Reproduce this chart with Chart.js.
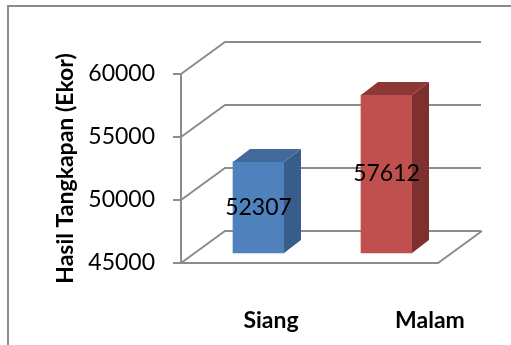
<!DOCTYPE html>
<html>
<head>
<meta charset="utf-8">
<script src="https://cdn.jsdelivr.net/npm/chart.js@4.4.1/dist/chart.umd.min.js"></script>
<style>
  html, body { margin: 0; padding: 0; background: #fff; }
  #wrap { position: relative; width: 511px; height: 345px; overflow: hidden; }
  #frame { position: absolute; left: 7px; top: 5px; right: -10px; bottom: -10px;
           border-left: 2px solid #8c8c8c; border-top: 2px solid #8c8c8c; }
  canvas { position: absolute; left: 0; top: 0; }
</style>
</head>
<body>
<div id="wrap">
  <div id="frame"></div>
  <canvas id="c" width="511" height="345"></canvas>
</div>
<script>
const categories = ['Siang', 'Malam'];
const values = [52307, 57612];
const barColors = ['#4F81BD', '#C0504D'];
const sideColors = ['#385D8A', '#7E302E'];
const topColors = ['#41699A', '#8C3836'];
const yTickValues = [45000, 50000, 55000, 60000];
const yTitle = 'Hasil Tangkapan (Ekor)';

const FONT = 'Lato, "Liberation Sans", sans-serif';
const GRID = '#8c8c8c';
const WALL_DX = 44, WALL_DY = -32;   // depth of the back wall
const BAR_SX = 13.5, BAR_SY = -9;    // bars sit partly into the depth
const BAR_DX = 17, BAR_DY = -13;     // bar depth

const threeD = {
  id: 'threeD',
  beforeDatasetsDraw(chart) {
    const { ctx, chartArea: { left, right, bottom }, scales: { y } } = chart;
    ctx.save();
    ctx.strokeStyle = GRID;
    ctx.lineWidth = 2;
    ctx.lineJoin = 'miter';
    ctx.beginPath();
    yTickValues.forEach(v => {
      const py = y.getPixelForValue(v);
      ctx.moveTo(left, py);
      ctx.lineTo(left + WALL_DX, py + WALL_DY);
      ctx.lineTo(right + WALL_DX, py + WALL_DY);
    });
    ctx.moveTo(left, bottom);
    ctx.lineTo(right + 1, bottom);
    ctx.lineTo(right + 1 + WALL_DX, bottom + WALL_DY);
    ctx.stroke();
    ctx.restore();
    ctx.save();
    ctx.translate(BAR_SX, BAR_SY);
  },
  afterDatasetsDraw(chart) {
    const { ctx } = chart;
    const meta = chart.getDatasetMeta(0);
    meta.data.forEach((el, i) => {
      const { x, y, base, width } = el.getProps(['x', 'y', 'base', 'width'], true);
      const l = x - width / 2, r = x + width / 2;
      ctx.fillStyle = sideColors[i];
      ctx.beginPath();
      ctx.moveTo(r, y);
      ctx.lineTo(r + BAR_DX, y + BAR_DY);
      ctx.lineTo(r + BAR_DX, base + BAR_DY);
      ctx.lineTo(r, base);
      ctx.closePath();
      ctx.fill();
      ctx.fillStyle = topColors[i];
      ctx.beginPath();
      ctx.moveTo(l, y);
      ctx.lineTo(l + BAR_DX, y + BAR_DY);
      ctx.lineTo(r + BAR_DX, y + BAR_DY);
      ctx.lineTo(r, y);
      ctx.closePath();
      ctx.fill();
      ctx.fillStyle = '#000';
      ctx.font = '23px ' + FONT;
      ctx.textAlign = 'center';
      ctx.textBaseline = 'middle';
      ctx.fillText(String(values[i]), x, (y + base) / 2);
    });
    ctx.restore();
  },
  afterDraw(chart) {
    const { ctx, chartArea: { left, bottom }, scales: { x } } = chart;
    ctx.save();
    ctx.fillStyle = '#000';
    ctx.font = 'bold 23px ' + FONT;
    ctx.textAlign = 'center';
    ctx.textBaseline = 'alphabetic';
    categories.forEach((c, i) => {
      const p = x.getPixelForValue(i);
      const lx = left + (p - left) * 1.242 + 10.5;
      ctx.fillText(c, lx, bottom + 65);
    });
    ctx.restore();
  }
};

new Chart(document.getElementById('c'), {
  type: 'bar',
  data: {
    labels: categories,
    datasets: [{
      data: values,
      base: yTickValues[0],
      backgroundColor: barColors,
      borderWidth: 0,
      borderSkipped: false,
      barThickness: 51,
      clip: false
    }]
  },
  options: {
    responsive: false,
    animation: false,
    layout: { padding: { left: 0, top: 74, right: 74, bottom: 82 } },
    plugins: { legend: { display: false }, tooltip: { enabled: false } },
    scales: {
      x: { display: false, offset: true },
      y: {
        min: yTickValues[0],
        max: yTickValues[yTickValues.length - 1],
        afterBuildTicks(scale) { scale.ticks = yTickValues.map(v => ({ value: v })); },
        afterFit(scale) { scale.width = 181; },
        ticks: {
          callback: v => String(v),
          color: '#000',
          font: { family: FONT, size: 23 },
          padding: 18
        },
        grid: { drawOnChartArea: false, drawTicks: true, tickLength: 8, color: GRID, lineWidth: 2 },
        border: { display: true, color: GRID, width: 2 },
        title: {
          display: true,
          text: yTitle,
          color: '#000',
          font: { family: FONT, size: 23, weight: 'bold' },
          padding: { top: 52, bottom: 0 }
        }
      }
    }
  },
  plugins: [threeD]
});
</script>
</body>
</html>
